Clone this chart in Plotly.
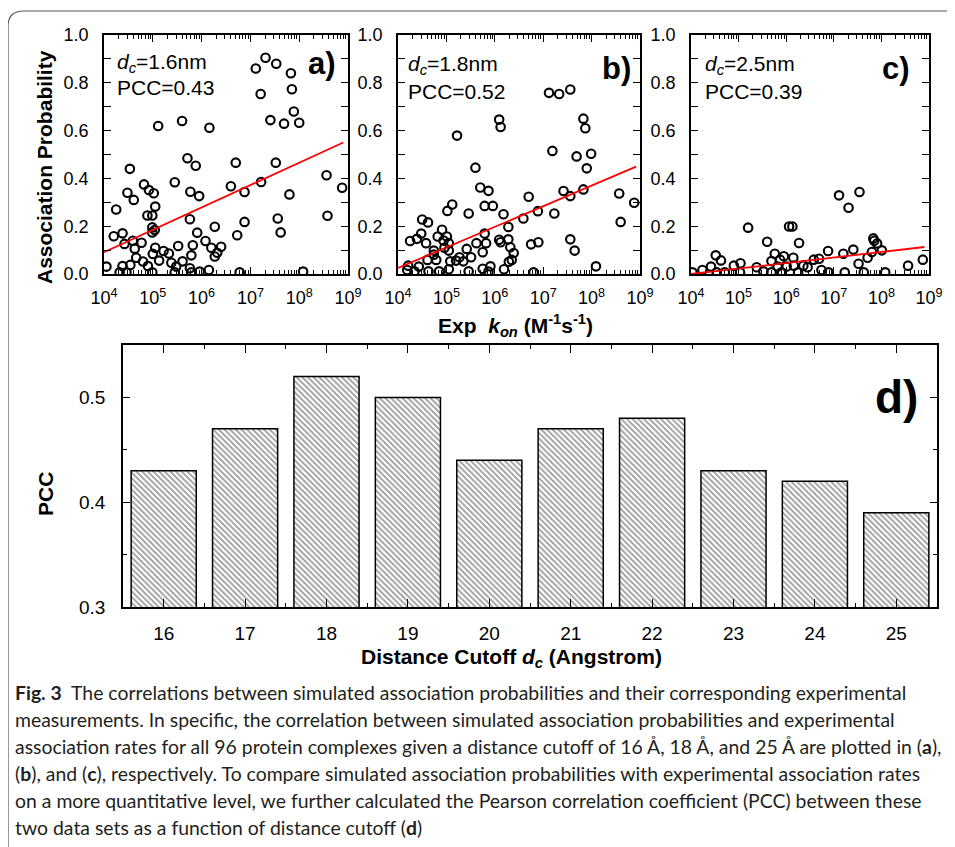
import plotly.graph_objects as go

W, H = 955, 847
OFF = 8  # the page body margin shifts the figure by 8 px; positions below are window pixels
def px(x): return (x - OFF) / W
def py(y): return 1 - (y - OFF) / H

# ---------------- data ----------------
# panel a (d_c = 1.6 nm): log10 of experimental k_on, association probability
a_logk = [7.11,7.31,7.53,7.83,7.21,7.85,7.89,8.00,7.41,7.69, 5.11,5.60,6.16,5.71,5.88,6.70,7.52,4.53,8.56,8.88,
          5.45,6.60,7.22,6.88,7.80,4.82,4.92,5.02,4.48,4.61, 5.77,5.95,4.25,5.05,4.89,4.99,5.76,8.58,7.56,6.88,
          7.62,6.73,4.99,4.99,5.04,5.91,6.27,4.20,4.38,4.42, 4.59,4.63,4.77,5.05,5.22,5.33,5.52,5.82,6.08,6.20,
          6.40,6.27,6.32,5.13,5.00,4.66,4.80,4.90,4.38,4.54, 4.05,5.38,5.48,5.61,5.79,5.76,5.96,6.15,6.78,8.08,
          4.99,4.32,5.45,5.79,4.46]
a_prob = [0.86,0.905,0.88,0.84,0.753,0.773,0.68,0.633,0.644,0.629, 0.619,0.64,0.612,0.484,0.453,0.466,0.466,0.44,0.413,0.361,
          0.384,0.367,0.385,0.343,0.333,0.375,0.351,0.338,0.34,0.31, 0.344,0.326,0.27,0.282,0.245,0.245,0.229,0.244,0.232,0.218,
          0.174,0.162,0.195,0.174,0.184,0.173,0.198,0.158,0.17,0.126, 0.139,0.106,0.131,0.11,0.096,0.086,0.117,0.12,0.138,0.11,
          0.114,0.073,0.089,0.056,0.084,0.068,0.052,0.033,0.033,0.038, 0.031,0.047,0.031,0.053,0.078,0.024,0.01,0.017,0.007,0.01,
          0.007,0.007,0.007,0.007,0.007]

# panel b (d_c = 1.8 nm)
b_logk = [7.12,7.33,7.56,7.83,7.87,6.09,6.12,5.22,7.19,7.69, 7.99,7.90,5.60,5.70,5.87,7.42,7.56,7.83,6.70,8.57,
          8.88,5.12,5.02,5.46,5.79,5.96,6.18,6.89,7.23,6.59, 8.60,4.50,4.62,4.48,4.39,4.25,4.58,4.91,4.82,5.01,
          4.94,5.05,4.96,4.74,5.05,5.62,5.79,5.82,6.09,6.12, 6.28,6.28,6.32,6.39,6.35,6.29,6.75,6.90,7.56,7.65,
          5.42,5.75,5.27,5.51,5.20,5.35,4.79,4.61,4.74,5.08, 4.21,4.43,4.19,4.34,4.63,4.85,5.05,5.46,5.75,5.91,
          6.19,6.80,8.09,5.87]
b_prob = [0.758,0.753,0.772,0.65,0.61,0.646,0.615,0.579,0.515,0.492, 0.503,0.442,0.445,0.362,0.348,0.347,0.326,0.354,0.323,0.337,
          0.298,0.291,0.264,0.253,0.285,0.285,0.25,0.263,0.253,0.232, 0.218,0.228,0.216,0.169,0.147,0.138,0.129,0.185,0.157,0.157,
          0.14,0.129,0.11,0.098,0.098,0.129,0.169,0.129,0.143,0.133, 0.197,0.145,0.112,0.088,0.059,0.051,0.124,0.133,0.145,0.098,
          0.105,0.091,0.07,0.07,0.056,0.053,0.059,0.059,0.081,0.053, 0.035,0.031,0.017,0.011,0.011,0.011,0.02,0.011,0.022,0.032,
          0.02,0.007,0.032,0.01]

# panel c (d_c = 2.5 nm)
c_logk = [7.11,7.31,7.54,7.83,7.85,7.91,8.01,7.80,7.71,7.41, 7.52,7.20,6.88,6.69,6.58,5.20,6.06,6.13,6.27,5.60,
          4.52,4.63,4.42,4.24,4.03,4.90,5.04,5.38,5.76,5.69, 5.87,5.95,5.82,6.01,6.15,6.16,6.36,6.45,6.74,6.89,
          7.23,7.63,8.08,8.56,8.87,5.52,5.03,4.71,5.90,6.25, 5.69,4.54]
c_prob = [0.329,0.277,0.343,0.149,0.139,0.128,0.099,0.092,0.068,0.102, 0.043,0.085,0.096,0.064,0.06,0.194,0.199,0.199,0.13,0.135,
          0.078,0.057,0.031,0.017,0.007,0.035,0.045,0.028,0.085,0.054, 0.06,0.074,0.031,0.031,0.068,0.035,0.035,0.028,0.017,0.007,
          0.007,0.007,0.007,0.035,0.06,0.011,0.007,0.007,0.007,0.007, 0.007,0.007]

# linear fits (end points in data units)
fit_a_k = [1e4, 8e8]; fit_a_p = [0.091, 0.55]
fit_b_k = [1e4, 8.3e8]; fit_b_p = [0.025, 0.449]
fit_c_k = [1e4, 8e8]; fit_c_p = [0.0, 0.113]

panel_labels = ["a)", "b)", "c)"]
panel_dc = ["1.6nm", "1.8nm", "2.5nm"]
panel_pcc = ["0.43", "0.52", "0.39"]

# panel d
cutoff = [16, 17, 18, 19, 20, 21, 22, 23, 24, 25]
pcc = [0.43, 0.47, 0.52, 0.50, 0.44, 0.47, 0.48, 0.43, 0.42, 0.39]

decade_vals = [1e4, 1e5, 1e6, 1e7, 1e8, 1e9]
decade_text = ["10<sup>4</sup>", "10<sup>5</sup>", "10<sup>6</sup>", "10<sup>7</sup>", "10<sup>8</sup>", "10<sup>9</sup>"]

caption_lines = [
    "<b>Fig. 3</b>  The correlations between simulated association probabilities and their corresponding experimental",
    "measurements. In specific, the correlation between simulated association probabilities and experimental",
    "association rates for all 96 protein complexes given a distance cutoff of 16 Å, 18 Å, and 25 Å are plotted in (<b>a</b>),",
    "(<b>b</b>), and (<b>c</b>), respectively. To compare simulated association probabilities with experimental association rates",
    "on a more quantitative level, we further calculated the Pearson correlation coefficient (PCC) between these",
    "two data sets as a function of distance cutoff (<b>d</b>)",
]

# ---------------- figure ----------------
FONT = "Liberation Sans, Arial, sans-serif"
fig = go.Figure()

panels = [
    (a_logk, a_prob, fit_a_k, fit_a_p, (104, 348)),
    (b_logk, b_prob, fit_b_k, fit_b_p, (398, 640)),
    (c_logk, c_prob, fit_c_k, fit_c_p, (691, 929)),
]
top_px, bot_px = 35, 274

minor_log = [m * 10 ** e for e in range(4, 9) for m in range(2, 10)]

for i, (lk, pr, fk, fp, (x0, x1)) in enumerate(panels):
    n = "" if i == 0 else str(i + 1)
    xa, ya = "x" + n, "y" + n
    fig.add_trace(go.Scatter(
        x=[10 ** v for v in lk], y=pr, mode="markers", xaxis=xa, yaxis=ya,
        marker=dict(symbol="circle-open", size=8.5, color="black", line=dict(width=2.1, color="black")),
        showlegend=False, cliponaxis=True))
    fig.add_trace(go.Scatter(
        x=fk, y=fp, mode="lines", xaxis=xa, yaxis=ya,
        line=dict(color="#ff0000", width=1.8), showlegend=False))
    axis_common = dict(showline=True, linecolor="black", linewidth=1.5, mirror="allticks", automargin=False,
                       ticks="inside", tickcolor="black", tickwidth=1.2, showgrid=False, zeroline=False,
                       tickfont=dict(family=FONT, size=18, color="black"))
    fig.layout["xaxis" + n] = dict(
        axis_common, type="log", range=[4, 9], domain=[px(x0), px(x1)], anchor=ya,
        tickvals=decade_vals, ticktext=decade_text, ticklen=7, ticklabelstandoff=7,
        minor=dict(tickvals=minor_log, ticks="inside", ticklen=4, tickcolor="black", tickwidth=1, showgrid=False))
    fig.layout["yaxis" + n] = dict(
        axis_common, range=[0, 1], domain=[py(bot_px), py(top_px)], anchor=xa,
        tickvals=[0, 0.2, 0.4, 0.6, 0.8, 1.0], ticktext=["0.0", "0.2", "0.4", "0.6", "0.8", "1.0"],
        ticklen=7, ticklabelstandoff=10,
        minor=dict(dtick=0.1, ticks="inside", ticklen=7, tickcolor="black", tickwidth=1.2, showgrid=False))

# bar panel
fig.add_trace(go.Bar(
    x=cutoff, y=pcc, xaxis="x4", yaxis="y4", width=0.8, showlegend=False,
    marker=dict(color="white", line=dict(color="black", width=1.5),
                pattern=dict(shape="\\", fgcolor="#333333", bgcolor="white", size=4, solidity=0.45))))
fig.layout.xaxis4 = dict(
    range=[15.5, 25.5], domain=[px(123), px(937)], anchor="y4", automargin=False,
    showline=True, linecolor="black", linewidth=1.5, mirror="allticks", ticks="inside", ticklen=8,
    tickcolor="black", tickwidth=1.2, tickvals=cutoff, showgrid=False, zeroline=False, ticklabelstandoff=8,
    tickfont=dict(family=FONT, size=19, color="black"),
    minor=dict(tickvals=[c + 0.5 for c in cutoff[:-1]], ticks="inside", ticklen=4, tickcolor="black", tickwidth=1.2, showgrid=False))
fig.layout.yaxis4 = dict(
    range=[0.3, 0.55], domain=[py(607), py(345)], anchor="x4", automargin=False,
    showline=True, linecolor="black", linewidth=1.5, mirror="allticks", ticks="inside", ticklen=7,
    tickcolor="black", tickwidth=1.2, tickvals=[0.3, 0.4, 0.5], ticktext=["0.3", "0.4", "0.5"],
    showgrid=False, zeroline=False, ticklabelstandoff=12,
    tickfont=dict(family=FONT, size=19, color="black"),
    minor=dict(tickvals=[0.35, 0.45, 0.55], ticks="inside", ticklen=4, tickcolor="black", tickwidth=1.2, showgrid=False))

ann = []
def text(x, y, s, size, xanchor="center", bold=False, angle=0, color="black", family=FONT):
    ann.append(dict(x=px(x), y=py(y), xref="paper", yref="paper", text=("<b>%s</b>" % s) if bold else s,
                    showarrow=False, xanchor=xanchor, yanchor="middle", textangle=angle,
                    font=dict(family=family, size=size, color=color)))

lab_pos = [(115, 63, 88, 338, 63), (406, 65, 91, 633, 68), (703, 65, 91, 912, 68)]
for i, (lx, y1, y2, rx, ry) in enumerate(lab_pos):
    text(lx, y1, "<i>d</i><sub><i>c</i></sub>=" + panel_dc[i], 21, xanchor="left")
    text(lx, y2, "PCC=" + panel_pcc[i], 21, xanchor="left")
    text(rx, ry, panel_labels[i], 31, xanchor="right", bold=True)

text(45, 167, "Association Probability", 21, bold=True, angle=-90)
text(516, 325, "Exp  <i>k</i><sub><i>on</i></sub> (M<sup>-1</sup>s<sup>-1</sup>)", 21, bold=True)
text(45, 494, "PCC", 21, bold=True, angle=-90)
text(511, 658, "Distance Cutoff <i>d</i><sub><i>c</i></sub> (Angstrom)", 21, bold=True)
text(920, 397, "d)", 46, xanchor="right", bold=True)

cap_y = [692, 719, 746, 773, 800, 827]
for s, y in zip(caption_lines, cap_y):
    text(13, y, s, 19.4, xanchor="left", color="#231f20", family="Lato, Open Sans, sans-serif")

# outer frame (rounded top-left corner)
frame = dict(type="path", xref="paper", yref="paper",
             path="M %f,%f L %f,%f Q %f,%f %f,%f L %f,%f" % (
                 px(8), py(850), px(8), py(26), px(8), py(11), px(24), py(11), px(962), py(11)),
             line=dict(color="#555555", width=1.2))

fig.update_layout(width=W, height=H, margin=dict(l=0, r=0, t=0, b=0, pad=0, autoexpand=False),
                  paper_bgcolor="white", plot_bgcolor="white", annotations=ann, shapes=[frame],
                  bargap=0.2)
fig.write_html("out.html")
